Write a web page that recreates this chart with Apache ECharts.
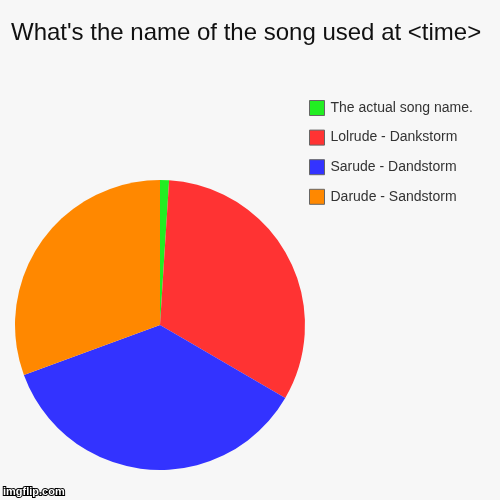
<!DOCTYPE html>
<html>
<head>
<meta charset="utf-8">
<script src="https://cdn.jsdelivr.net/npm/echarts@6/dist/echarts.min.js"></script>
<style>
html,body{margin:0;padding:0;background:#f7f7f7;}
#c{width:500px;height:500px;}
</style>
</head>
<body>
<div id="c"></div>
<script>
const titleText = "What's the name of the song used at <time>";
const categories = ['The actual song name.', 'Lolrude - Dankstorm', 'Sarude - Dandstorm', 'Darude - Sandstorm'];
const values = [1.0, 32.4, 36.0, 30.6];
const colors = ['#22ee22', '#ff3333', '#3333ff', '#ff8800'];
const legendOrder = ['The actual song name.', 'Lolrude - Dankstorm', 'Sarude - Dandstorm', 'Darude - Sandstorm'];

const chart = echarts.init(document.getElementById('c'), null, {renderer: 'canvas'});
chart.setOption({
  backgroundColor: '#f7f7f7',
  animation: false,
  title: {
    text: titleText,
    left: 11,
    top: 21,
    padding: 0,
    textStyle: {fontFamily: 'Liberation Sans, Arial, sans-serif', fontSize: 24, fontWeight: 'normal', color: '#111'}
  },
  legend: {
    orient: 'vertical',
    left: 309,
    top: 100,
    padding: 0,
    itemWidth: 15,
    itemHeight: 15,
    itemGap: 13.6,
    icon: 'rect',
    data: legendOrder,
    itemStyle: {borderColor: '#666', borderWidth: 1},
    textStyle: {fontFamily: 'Liberation Sans, Arial, sans-serif', fontSize: 14, color: '#333', padding: [0, 0, 0, 1]},
    selectedMode: false
  },
  graphic: [{
    type: 'text',
    left: 2,
    top: 485,
    style: {text: 'imgflip.com', fontFamily: 'Liberation Sans, Arial, sans-serif', fontSize: 11, fontWeight: 'bold', fill: '#fff', stroke: '#000', lineWidth: 2}
  }],
  series: [{
    type: 'pie',
    center: [160, 325],
    radius: [0, 145],
    startAngle: 90,
    clockwise: true,
    label: {show: false},
    labelLine: {show: false},
    emphasis: {disabled: true},
    itemStyle: {borderWidth: 0},
    data: categories.map((n, i) => ({name: n, value: values[i], itemStyle: {color: colors[i]}}))
  }]
});
</script>
</body>
</html>
